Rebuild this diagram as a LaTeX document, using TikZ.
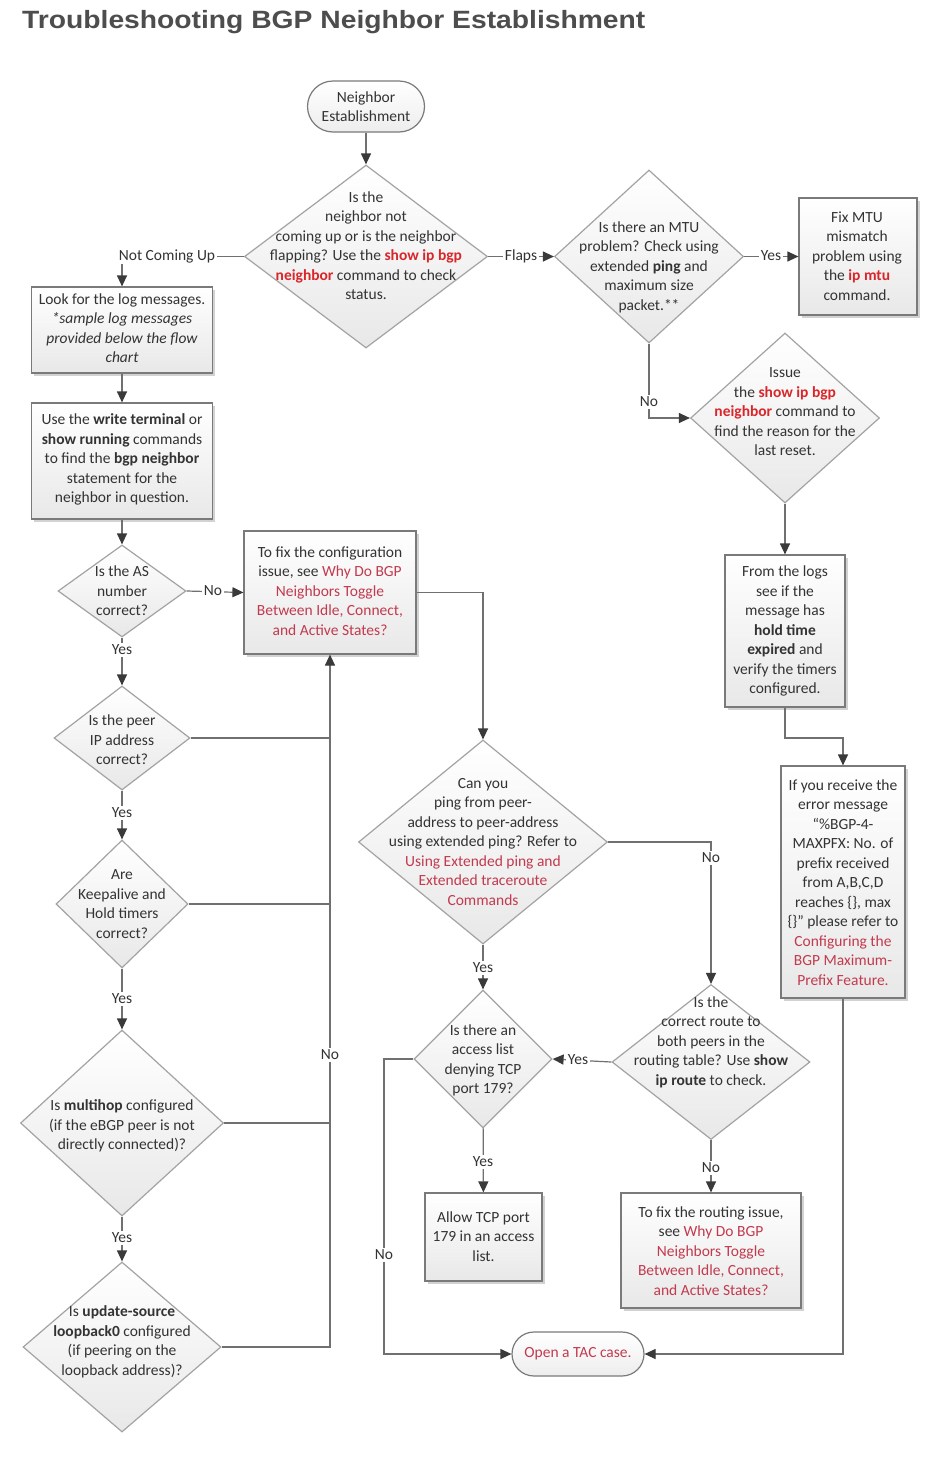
\documentclass[tikz,border=0pt]{standalone}
\usepackage{fontspec}
\setmainfont{Carlito}
\newfontfamily\titlefont{Liberation Sans}
\usetikzlibrary{shapes.geometric,shapes.misc,arrows.meta,shadows,calc}
\definecolor{txt}{HTML}{333333}
\definecolor{linkred}{HTML}{C23A4E}
\definecolor{cmdred}{HTML}{D9262B}
\definecolor{lnc}{HTML}{707070}
\definecolor{tipc}{HTML}{3A3A3A}
\definecolor{boxb}{HTML}{7A7A7A}
\definecolor{diab}{HTML}{A3A3A3}
\definecolor{titlec}{HTML}{4D4D4D}
\newcommand{\cmdt}[1]{\textbf{\color{cmdred}#1}}
\newcommand{\lnk}[1]{{\color{linkred}#1}}
\begin{document}
\begin{tikzpicture}[x=1pt,y=-1pt,
 every node/.style={font=\fontsize{15.5}{19.5}\selectfont, text=txt},
 boxnode/.style={rectangle, draw=boxb, line width=1.2pt, top color=white, bottom color=black!9,
   drop shadow={shadow xshift=2.5pt,shadow yshift=-2.5pt,fill=black!35,opacity=0.5}, inner sep=0pt},
 diam/.style={diamond, draw=diab, line width=1.2pt, top color=white, bottom color=black!9, inner sep=0pt},
 term/.style={rounded rectangle, draw=boxb, line width=1.2pt, top color=white, bottom color=black!7, inner sep=0pt},
 txtnode/.style={align=center, inner sep=0pt},
 conn/.style={draw=lnc, line width=1.2pt},
 arr/.style={conn, -{Triangle[length=11pt,width=10pt,color=tipc]}},
 elab/.style={fill=white, inner sep=1.5pt}
]
\useasboundingbox[fill=white] (0,0) rectangle (950,1459);

% title
\node[anchor=base west, inner sep=0pt] (title) at (22,28) {\scalebox{1.13}[1]{\color{titlec}\titlefont\bfseries\fontsize{25}{30}\selectfont Troubleshooting BGP Neighbor Establishment}};

% shapes
\node[term, minimum width=117pt, minimum height=51pt] (start) at (366,106.5) {};
\node[diam, minimum width=243pt, minimum height=183pt] (D1) at (366,256.5) {};
\node[boxnode, minimum width=181pt, minimum height=86pt] (B1) at (122,330) {};
\node[boxnode, minimum width=181pt, minimum height=116pt] (B2) at (122,461) {};
\node[diam, minimum width=128pt, minimum height=92pt] (D2) at (122,591) {};
\node[boxnode, minimum width=172pt, minimum height=123pt] (B3) at (330,592.5) {};
\node[diam, minimum width=136pt, minimum height=104pt] (D3) at (122,738) {};
\node[diam, minimum width=132pt, minimum height=128pt] (D4) at (122,904) {};
\node[diam, minimum width=203pt, minimum height=186pt] (D5) at (122,1123) {};
\node[diam, minimum width=198pt, minimum height=170pt] (D6) at (122,1347) {};
\node[diam, minimum width=249pt, minimum height=204pt] (D7) at (483,842) {};
\node[diam, minimum width=138pt, minimum height=138pt] (D8) at (483,1059) {};
\node[diam, minimum width=198pt, minimum height=155pt] (D9) at (711,1062) {};
\node[boxnode, minimum width=117pt, minimum height=88pt] (B4) at (483.5,1237) {};
\node[boxnode, minimum width=180pt, minimum height=115pt] (B5) at (711,1250.5) {};
\node[term, minimum width=132pt, minimum height=44pt] (TAC) at (578,1354) {};
\node[diam, minimum width=189pt, minimum height=173pt] (D10) at (649,256.5) {};
\node[boxnode, minimum width=118pt, minimum height=117pt] (B6) at (858,256.5) {};
\node[diam, minimum width=189pt, minimum height=170pt] (D11) at (785,418) {};
\node[boxnode, minimum width=120pt, minimum height=152pt] (B7) at (785,631) {};
\node[boxnode, minimum width=124pt, minimum height=232pt] (B8) at (843,882) {};

% texts
\node[txtnode] (startt) at (366,106.5) {Neighbor\\Establishment};
\node[txtnode] (D1t) at (366,245.5) {Is the\\neighbor not\\coming up or is the neighbor\\flapping? Use the \cmdt{show ip bgp}\\\cmdt{neighbor} command to check\\status.};
\node[txtnode] (B1t) at (122,328) {Look for the log messages.\\\itshape *sample log messages\\\itshape provided below the flow\\\itshape chart};
\node[txtnode] (B2t) at (122,459.5) {Use the \textbf{write terminal} or\\\textbf{show running} commands\\to find the \textbf{bgp neighbor}\\statement for the\\neighbor in question.};
\node[txtnode] (D2t) at (122,591) {Is the AS\\number\\correct?};
\node[txtnode] (B3t) at (330,591) {To fix the configuration\\issue, see \lnk{Why Do BGP}\\\lnk{Neighbors Toggle}\\\lnk{Between Idle, Connect,}\\\lnk{and Active States?}};
\node[txtnode] (D3t) at (122,740) {Is the peer\\IP address\\correct?};
\node[txtnode] (D4t) at (122,904) {Are\\Keepalive and\\Hold timers\\correct?};
\node[txtnode] (D5t) at (122,1126) {Is \textbf{multihop} configured\\(if the eBGP peer is not\\directly connected)?};
\node[txtnode] (D6t) at (122,1342) {Is \textbf{update-source}\\\textbf{loopback0} configured\\(if peering on the\\loopback address)?};
\node[txtnode] (D7t) at (483,842) {Can you\\ping from peer-\\address to peer-address\\using extended ping? Refer to\\\lnk{Using Extended ping and}\\\lnk{Extended traceroute}\\\lnk{Commands}};
\node[txtnode] (D8t) at (483,1060.5) {Is there an\\access list\\denying TCP\\port 179?};
\node[txtnode] (D9t) at (711,1042) {Is the\\correct route to\\both peers in the\\routing table? Use \textbf{show}\\\textbf{ip route} to check.};
\node[txtnode] (B4t) at (483.5,1236.5) {Allow TCP port\\179 in an access\\list.};
\node[txtnode] (B5t) at (711,1251) {To fix the routing issue,\\see \lnk{Why Do BGP}\\\lnk{Neighbors Toggle}\\\lnk{Between Idle, Connect,}\\\lnk{and Active States?}};
\node[txtnode] (TACt) at (578,1354) {\lnk{Open a TAC case.}};
\node[txtnode] (D10t) at (649,267) {Is there an MTU\\problem? Check using\\extended \textbf{ping} and\\maximum size\\packet.**};
\node[txtnode] (B6t) at (857,256) {Fix MTU\\mismatch\\problem using\\the \cmdt{ip mtu}\\command.};
\node[txtnode] (D11t) at (785,412) {Issue\\the \cmdt{show ip bgp}\\\cmdt{neighbor} command to\\find the reason for the\\last reset.};
\node[txtnode] (B7t) at (785,631) {From the logs\\see if the\\message has\\\textbf{hold time}\\\textbf{expired} and\\verify the timers\\configured.};
\node[txtnode] (B8t) at (843,882.5) {If you receive the\\error message\\“\%BGP-4-\\MAXPFX: No. of\\prefix received\\from A,B,C,D\\reaches \{\}, max\\\{\}” please refer to\\\lnk{Configuring the}\\\lnk{BGP Maximum-}\\\lnk{Prefix Feature.}};

% connectors
\coordinate (bus) at (330,1347);
\draw[arr] (start) -- (D1);
\draw[arr] (D1.west) -| (B1.north);
\draw[arr] (B1) -- (B2);
\draw[arr] (B2) -- (D2);
\draw[arr] (D2.east) -- (B3.west);
\draw[arr] (D2) -- (D3);
\draw[arr] (D3) -- (D4);
\draw[arr] (D4) -- (D5);
\draw[arr] (D5) -- (D6);
\draw[conn] (D3.east) -- (D3.east -| bus);
\draw[conn] (D4.east) -- (D4.east -| bus);
\draw[conn] (D5.east) -- (D5.east -| bus);
\draw[arr] (D6.east) -- (bus) -- (B3.south);
\draw[arr] (B3.east) -| (D7.north);
\draw[arr] (D7.east) -| (D9.north);
\draw[arr] (D7) -- (D8);
\draw[arr] (D9.west) -- (D8.east);
\draw[arr] (D8) -- (B4);
\draw[arr] (D9) -- (B5);
\coordinate (tl) at (384,1059);
\draw[arr] (D8.west) -- (tl) |- (TAC.west);
\draw[arr] (D1.east) -- (D10.west);
\draw[arr] (D10.east) -- (B6.west);
\draw[arr] (D10.south) |- (D11.west);
\draw[arr] (D11) -- (B7);
\coordinate (b7b) at (785,738);
\draw[arr] (B7.south) -- (b7b) -| (B8.north);
\draw[arr] (B8.south) |- (TAC.east);

% edge labels
\node[elab] (lNCU) at (167,256) {Not Coming Up};
\node[elab] (lFlaps) at (521,256) {Flaps};
\node[elab] (lY1) at (771,256) {Yes};
\node[elab] (lN1) at (649,402) {No};
\node[elab] (lN2) at (213,591) {No};
\node[elab] (lY2) at (122,650) {Yes};
\node[elab] (lY3) at (122,813) {Yes};
\node[elab] (lY4) at (122,999) {Yes};
\node[elab] (lY5) at (122,1238) {Yes};
\node[elab] (lN3) at (330,1055) {No};
\node[elab] (lN4) at (711,858) {No};
\node[elab] (lY6) at (483,968) {Yes};
\node[elab] (lY7) at (578,1060) {Yes};
\node[elab] (lY8) at (483,1162) {Yes};
\node[elab] (lN5) at (711,1168) {No};
\node[elab] (lN6) at (384,1255) {No};
\end{tikzpicture}
\end{document}
